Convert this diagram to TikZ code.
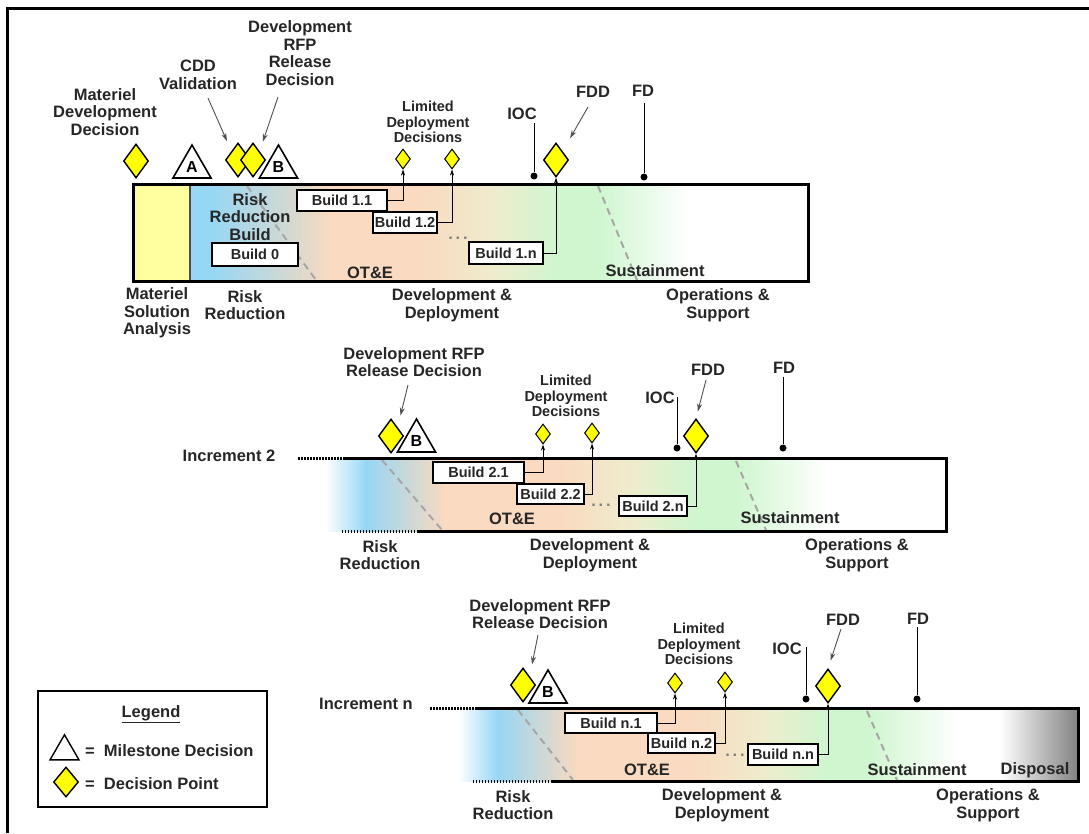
\documentclass[tikz,border=0pt]{standalone}
\usepackage{fontspec}
\setmainfont{Liberation Sans}
\usetikzlibrary{shapes.geometric,arrows.meta}
\definecolor{dpyellow}{RGB}{255,255,0}
\definecolor{msayellow}{RGB}{255,255,160}
\definecolor{rrblue}{RGB}{150,215,245}
\definecolor{rrgray}{RGB}{212,216,210}
\definecolor{ddpeach}{RGB}{250,218,192}
\definecolor{ddyellow}{RGB}{238,236,205}
\definecolor{ddgreen}{RGB}{208,246,208}
\definecolor{dispgray}{RGB}{130,130,130}
\definecolor{ptrgray}{RGB}{80,80,80}
\tikzset{
  lbl/.style={font=\fontsize{16.5}{17.5}\selectfont\bfseries, align=center, inner sep=0pt, text=black!85},
  ldlbl/.style={lbl, font=\fontsize{14.5}{15.5}\selectfont\bfseries},
  build/.style={draw, fill=white, line width=1.5pt, font=\fontsize{14.5}{14.5}\selectfont\bfseries, minimum height=21pt, inner sep=1pt, text=black!85},
  dp/.style={diamond, draw, fill=dpyellow, line width=1.4pt, inner sep=0pt, minimum width=25pt, minimum height=34pt},
  ldp/.style={dp, minimum width=15pt, minimum height=20pt, line width=1pt},
  ms/.style={regular polygon, regular polygon sides=3, draw, fill=white, line width=1.6pt, inner sep=0pt, minimum size=44pt, font=\fontsize{16}{16}\selectfont\bfseries},
  ptr/.style={draw=ptrgray, line width=0.9pt, -{Stealth[length=8pt,width=5pt]}},
  feed/.style={line width=0.9pt, -{Stealth[length=6pt,width=4pt]}},
  mdot/.style={circle, fill, inner sep=0pt, minimum size=7pt},
  phase/.style={line width=3pt},
  tbd/.style={line width=3pt, dash pattern=on 1.5pt off 1.5pt},
  cutline/.style={draw=gray!70, line width=2pt, dash pattern=on 7pt off 5pt},
}
\begin{document}
\begin{tikzpicture}[x=1pt,y=-1pt]
\useasboundingbox (0,0) rectangle (1089,833);
\draw[line width=3pt] (7,833) -- (7,8) -- (1089,8);

% increment 1
\fill[msayellow] (133,184) rectangle (190,281);
\fill[rrblue] (190,184) rectangle (211,281);
\shade[left color=rrblue,right color=rrgray] (210,184) rectangle (291,281);
\shade[left color=rrgray,right color=ddpeach] (290,184) rectangle (331,281);
\fill[ddpeach] (330,184) rectangle (421,281);
\shade[left color=ddpeach,right color=ddyellow] (420,184) rectangle (496,281);
\shade[left color=ddyellow,right color=ddgreen] (495,184) rectangle (556,281);
\fill[ddgreen] (555,184) rectangle (601,281);
\shade[left color=ddgreen,right color=white] (600,184) rectangle (690,281);
\draw[cutline] (247,186) -- (316,280);
\draw[cutline] (598,186) -- (637,280);
\draw[line width=1.5pt, gray!60!black] (190,184) -- (190,281);
\draw[phase] (133,184) rectangle (808,281);

\node[lbl] (mddlbl) at (105,112) {Materiel\\Development\\Decision};
\node[lbl] (cddlbl) at (198,75) {CDD\\Validation};
\node[lbl] (rfplbl1) at (300,53) {Development\\RFP\\Release\\Decision};
\node[ldlbl] (ldlbl1) at (428,122) {Limited\\Deployment\\Decisions};
\node[lbl] (ioclbl1) at (522,114) {IOC};
\node[lbl] (fddlbl1) at (593,92) {FDD};
\node[lbl] (fdlbl1) at (643,91) {FD};

\node[dp] (mdd) at (136,161) {};
\node[ms] (msa) at (192,167) {A};
\node[dp] (cdd) at (238,160) {};
\node[dp] (rfp1) at (253,160) {};
\node[ms] (msb1) at (278.5,167) {B};
\node[ldp] (ld11) at (403,159) {};
\node[ldp] (ld12) at (452,159) {};
\node[dp] (fdd1) at (556,160) {};
\node[mdot] (iocpt1) at (534,176) {};
\node[mdot] (fdpt1) at (644,177) {};

\node[lbl] (rrb) at (250,217) {Risk\\Reduction\\Build};
\node[build, minimum width=86pt, minimum height=23pt] (b0) at (255,254.5) {Build 0};
\node[build, minimum width=90pt] (b11) at (342,200.5) {Build 1.1};
\node[build, minimum width=64pt] (b12) at (405,222.5) {Build 1.2};
\node[build, minimum width=74pt, minimum height=22pt] (b1n) at (506,253) {Build 1.n};
\node[lbl, text=gray] (more1) at (458,238) {.\,.\,.};
\node[lbl] (ote1) at (370,273) {OT\&E};
\node[lbl] (sus1) at (655,271) {Sustainment};

\node[lbl] (msaph) at (157,313) {Materiel\\Solution\\Analysis};
\node[lbl] (rrph1) at (245,305) {Risk\\Reduction};
\node[lbl] (ddph1) at (452,305) {Development \&\\Deployment};
\node[lbl] (osph1) at (718,305) {Operations \&\\Support};

\coordinate (cddtail) at (208,98);
\coordinate (rfptail1) at (278,97);
\coordinate (fddtail1) at (588,107);
\coordinate (ioctop1) at (534,123);
\coordinate (fdtop1) at (644,103);
\draw[ptr, shorten >=11pt] (cddtail) -- (cdd.north west);
\draw[ptr, shorten >=10pt] (rfptail1) -- (rfp1.north east);
\draw[ptr, shorten >=15pt] (fddtail1) -- (fdd1.north east);
\draw[line width=0.9pt] (ioctop1) -- (iocpt1);
\draw[line width=0.9pt] (fdtop1) -- (fdpt1);
\draw[feed] (b11.east) -| (ld11.south);
\draw[feed] (b12.east) -| (ld12.south);
\draw[feed] (b1n.east) -| (fdd1.south);

% increment 2
\shade[left color=white,right color=rrblue] (325,458) rectangle (366,531);
\shade[left color=rrblue,right color=rrgray] (365,458) rectangle (416,531);
\shade[left color=rrgray,right color=ddpeach] (415,458) rectangle (446,531);
\fill[ddpeach] (445,458) rectangle (559,531);
\shade[left color=ddpeach,right color=ddyellow] (558,458) rectangle (634,531);
\shade[left color=ddyellow,right color=ddgreen] (633,458) rectangle (694,531);
\fill[ddgreen] (693,458) rectangle (739,531);
\shade[left color=ddgreen,right color=white] (738,458) rectangle (828,531);
\draw[cutline] (382,460) -- (442,530);
\draw[cutline] (736,461) -- (766,530);
\draw[tbd] (298,458) -- (343,458);
\draw[phase] (343,458) -- (946,458) -- (946,531) -- (418,531);
\draw[tbd] (418,531) -- (340,531);

\node[lbl] (inc2) at (229,456) {Increment 2};
\node[lbl] (rfplbl2) at (414,362) {Development RFP\\Release Decision};
\node[ldlbl] (ldlbl2) at (566,396) {Limited\\Deployment\\Decisions};
\node[lbl] (ioclbl2) at (660,398) {IOC};
\node[lbl] (fddlbl2) at (708,370) {FDD};
\node[lbl] (fdlbl2) at (784,368) {FD};

\node[dp] (rfp2) at (391,436) {};
\node[ms] (msb2) at (416.5,441) {B};
\node[ldp] (ld21) at (543,434) {};
\node[ldp] (ld22) at (592,433) {};
\node[dp] (fdd2) at (696,436) {};
\node[mdot] (iocpt2) at (677,448) {};
\node[mdot] (fdpt2) at (783,448) {};

\node[build, minimum width=91pt] (b21) at (478.5,472.5) {Build 2.1};
\node[build, minimum width=67pt, minimum height=20pt] (b22) at (550.5,494) {Build 2.2};
\node[build, minimum width=68pt, minimum height=20pt] (b2n) at (653,506) {Build 2.n};
\node[lbl, text=gray] (more2) at (601,505) {.\,.\,.};
\node[lbl] (ote2) at (512,519) {OT\&E};
\node[lbl] (sus2) at (790,518) {Sustainment};

\node[lbl] (rrph2) at (380,555) {Risk\\Reduction};
\node[lbl] (ddph2) at (590,555) {Development \&\\Deployment};
\node[lbl] (osph2) at (857,555) {Operations \&\\Support};

\coordinate (rfptail2) at (408,385);
\coordinate (fddtail2) at (706,380);
\coordinate (ioctop2) at (677,397);
\coordinate (fdtop2) at (783,377);
\draw[ptr, shorten >=12pt] (rfptail2) -- (rfp2.north east);
\draw[ptr, shorten >=7pt] (fddtail2) -- (fdd2.north);
\draw[line width=0.9pt] (ioctop2) -- (iocpt2);
\draw[line width=0.9pt] (fdtop2) -- (fdpt2);
\draw[feed] (b21.east) -| (ld21.south);
\draw[feed] (b22.east) -| (ld22.south);
\draw[feed] (b2n.east) -| (fdd2.south);

% increment n
\shade[left color=white,right color=rrblue] (458,708) rectangle (498,781);
\shade[left color=rrblue,right color=rrgray] (497,708) rectangle (548,781);
\shade[left color=rrgray,right color=ddpeach] (547,708) rectangle (578,781);
\fill[ddpeach] (577,708) rectangle (691,781);
\shade[left color=ddpeach,right color=ddyellow] (690,708) rectangle (766,781);
\shade[left color=ddyellow,right color=ddgreen] (765,708) rectangle (826,781);
\fill[ddgreen] (825,708) rectangle (871,781);
\shade[left color=ddgreen,right color=white] (870,708) rectangle (960,781);
\shade[left color=white,right color=dispgray] (1000,708) rectangle (1078,781);
\draw[cutline] (518,710) -- (573,780);
\draw[cutline] (867,711) -- (897,780);
\draw[tbd] (430,708) -- (475,708);
\draw[phase] (475,708) -- (1078,708) -- (1078,781) -- (552,781);
\draw[tbd] (552,781) -- (472,781);

\node[lbl] (incn) at (366,704) {Increment n};
\node[lbl] (rfplbln) at (540,614) {Development RFP\\Release Decision};
\node[ldlbl] (ldlbln) at (699,644) {Limited\\Deployment\\Decisions};
\node[lbl] (ioclbln) at (787,649) {IOC};
\node[lbl] (fddlbln) at (843,620) {FDD};
\node[lbl] (fdlbln) at (918,619) {FD};

\node[dp] (rfpn) at (523,685) {};
\node[ms] (msbn) at (548,692) {B};
\node[ldp] (ldn1) at (675,683) {};
\node[ldp] (ldn2) at (725,682) {};
\node[dp] (fddn) at (828,686) {};
\node[mdot] (iocptn) at (806,699) {};
\node[mdot] (fdptn) at (917,699) {};

\node[build, minimum width=92pt, minimum height=20pt] (bn1) at (611,723) {Build n.1};
\node[build, minimum width=67pt, minimum height=20pt] (bn2) at (681.5,743) {Build n.2};
\node[build, minimum width=70pt] (bnn) at (783,754.5) {Build n.n};
\node[lbl, text=gray] (moren) at (735,755) {.\,.\,.};
\node[lbl] (oten) at (647,770) {OT\&E};
\node[lbl] (susn) at (917,770) {Sustainment};
\node[lbl] (disp) at (1035,770) {Disposal};

\node[lbl] (rrphn) at (513,805) {Risk\\Reduction};
\node[lbl] (ddphn) at (722,805) {Development \&\\Deployment};
\node[lbl] (osphn) at (988,805) {Operations \&\\Support};

\coordinate (rfptailn) at (538,635);
\coordinate (fddtailn) at (841,629);
\coordinate (ioctopn) at (806,647);
\coordinate (fdtopn) at (917,627);
\draw[ptr, shorten >=12pt] (rfptailn) -- (rfpn.north east);
\draw[ptr, shorten >=8pt] (fddtailn) -- (fddn.north);
\draw[line width=0.9pt] (ioctopn) -- (iocptn);
\draw[line width=0.9pt] (fdtopn) -- (fdptn);
\draw[feed] (bn1.east) -| (ldn1.south);
\draw[feed] (bn2.east) -| (ldn2.south);
\draw[feed] (bnn.east) -| (fddn.south);

% legend
\draw[line width=2.5pt] (38,691) rectangle (267,807);
\node[lbl] (legtitle) at (151,714) {\underline{Legend}};
\node[ms, minimum size=33.5pt, line width=1.4pt] (legms) at (64.5,751.5) {};
\node[lbl, anchor=west] (legmstxt) at (85,751) {=~~Milestone Decision};
\node[dp, minimum height=30pt] (legdp) at (66,782) {};
\node[lbl, anchor=west] (legdptxt) at (85,784) {=~~Decision Point};
\end{tikzpicture}
\end{document}
